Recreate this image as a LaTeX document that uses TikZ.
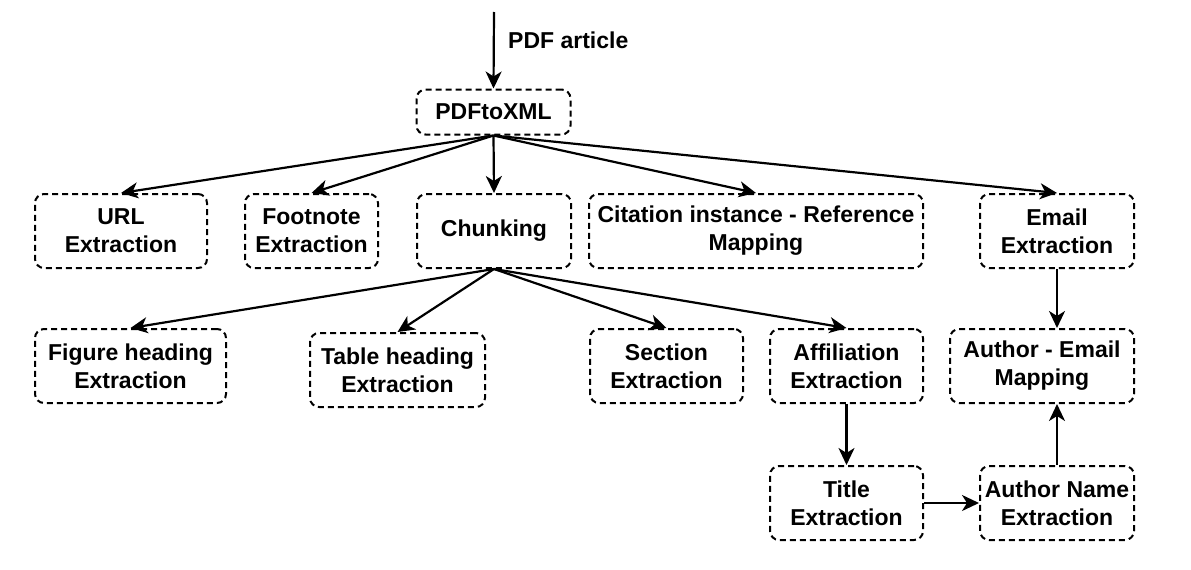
\documentclass[tikz,border=0pt]{standalone}
\usepackage{fontspec}
\setmainfont{Liberation Sans}
\usetikzlibrary{arrows.meta}
\begin{document}
\begin{tikzpicture}[x=1pt,y=-1pt,
  box/.style={draw, line width=2pt, dash pattern=on 6pt off 4pt, rounded corners=9pt,
    align=center, inner sep=0pt, font=\fontsize{23}{28}\selectfont\bfseries},
  arr/.style={line width=2.2pt, -{Stealth[length=17pt,width=16pt,inset=5pt]}},
  lbl/.style={font=\fontsize{23}{28}\selectfont\bfseries, inner sep=0pt}]
\useasboundingbox (0,0) rectangle (1191,570);
\node[box, minimum width=154pt, minimum height=45pt] (pdf) at (493.5,112) {PDFtoXML};
\coordinate (in) at (494,12);
\node[lbl, anchor=west] (lab) at (508,40) {PDF article};
\node[box, minimum width=172pt, minimum height=74pt] (url) at (121,231) {URL\\Extraction};
\node[box, minimum width=133pt, minimum height=74pt] (foot) at (311.5,231) {Footnote\\Extraction};
\node[box, minimum width=154pt, minimum height=74pt] (chunk) at (494,231) {Chunking};
\node[box, minimum width=334pt, minimum height=74pt] (cit) at (756,231) {Citation instance - Reference\\Mapping};
\node[box, minimum width=154pt, minimum height=74pt] (email) at (1057,231) {Email\\Extraction};
\node[box, minimum width=191pt, minimum height=74pt] (fig) at (130.5,366) {Figure heading\\Extraction};
\node[box, minimum width=175pt, minimum height=74pt] (tab) at (397.5,370) {Table heading\\Extraction};
\node[box, minimum width=153pt, minimum height=74pt] (sec) at (666.5,366) {Section\\Extraction};
\node[box, minimum width=153pt, minimum height=74pt] (aff) at (846.5,366) {Affiliation\\Extraction};
\node[box, minimum width=184pt, minimum height=74pt] (ae) at (1042,366) {Author - Email\\Mapping};
\node[box, minimum width=153pt, minimum height=74pt] (title) at (846.5,503) {Title\\Extraction};
\node[box, minimum width=154pt, minimum height=74pt] (an) at (1057,503) {Author Name\\Extraction};
\draw[arr] (in) -- (pdf.north);
\draw[arr] (pdf.south) -- (url.north);
\draw[arr] (pdf.south) -- (foot.north);
\draw[arr] (pdf.south) -- (chunk.north);
\draw[arr] (pdf.south) -- (cit.north);
\draw[arr] (pdf.south) -- (email.north);
\draw[arr] (chunk.south) -- (fig.north);
\draw[arr] (chunk.south) -- (tab.north);
\draw[arr] (chunk.south) -- (sec.north);
\draw[arr] (chunk.south) -- (aff.north);
\draw[arr] (email.south) -- (email.south |- ae.north);
\draw[arr] (aff.south) -- (title.north);
\draw[arr] (title.east) -- (an.west);
\draw[arr] (an.north) -- (an.north |- ae.south);
\end{tikzpicture}
\end{document}
